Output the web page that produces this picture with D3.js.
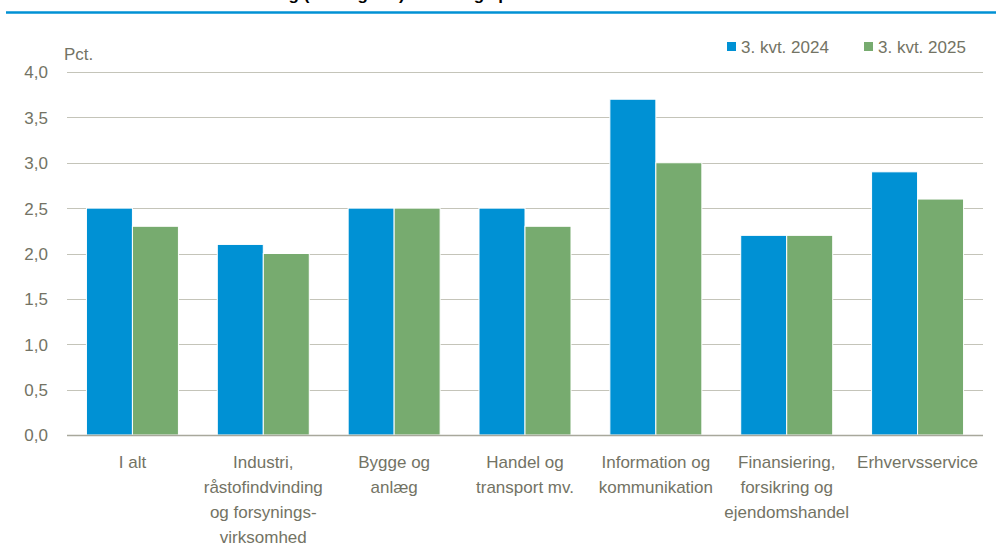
<!DOCTYPE html>
<html>
<head>
<meta charset="utf-8">
<script src="https://cdn.jsdelivr.net/npm/d3@7"></script>
<style>
  body { margin: 0; background: #fff; }
  svg { display: block; font-family: Arial, "Liberation Sans", sans-serif; }
  .tick-label, .cat-label, .legend-text, .unit { fill: #737364; font-size: 17px; }
</style>
</head>
<body>
<svg id="chart"></svg>
<script>
// Data
const categories = [
  ['I alt'],
  ['Industri,', 'råstofindvinding', 'og forsynings-', 'virksomhed'],
  ['Bygge og', 'anlæg'],
  ['Handel og', 'transport mv.'],
  ['Information og', 'kommunikation'],
  ['Finansiering,', 'forsikring og', 'ejendomshandel'],
  ['Erhvervsservice']
];
const seriesNames = ['3. kvt. 2024', '3. kvt. 2025'];
const values2024 = [2.5, 2.1, 2.5, 2.5, 3.7, 2.2, 2.9];
const values2025 = [2.3, 2.0, 2.5, 2.3, 3.0, 2.2, 2.6];
const yTicks = [0, 0.5, 1, 1.5, 2, 2.5, 3, 3.5, 4];
const colors = ['#0091d4', '#77ab6f'];

const width = 996, height = 551;
const margin = {top: 72, right: 13, bottom: 116, left: 67};
const innerW = width - margin.left - margin.right;
const innerH = height - margin.top - margin.bottom;

const svg = d3.select('#chart')
    .attr('width', width)
    .attr('height', height);

// title, cut off at the top edge as in the source
svg.append('text')
    .attr('x', 8)
    .attr('y', 0)
    .style('font-size', '17px')
    .style('font-weight', 'bold')
    .attr('fill', '#000')
    .text('Jobvakancerate i hovedbrancher og (ukorrigeret) udvikling i procent');

svg.append('line')
    .attr('x1', 6).attr('x2', width)
    .attr('y1', 12.5).attr('y2', 12.5)
    .attr('stroke', '#0091d4')
    .attr('stroke-width', 2.5);

const chart = svg.append('g')
    .attr('transform', `translate(${margin.left},${margin.top})`);

const idx = categories.map((d, i) => i);
const xScale = d3.scaleBand()
    .domain(idx)
    .range([0, innerW])
    .paddingInner(0.297)
    .paddingOuter(0.1485);

const xSub = d3.scaleBand()
    .domain([0, 1])
    .range([0, xScale.bandwidth()]);

const yScale = d3.scaleLinear()
    .domain([0, 4])
    .range([innerH, 0]);

// gridlines
chart.selectAll('.grid')
    .data(yTicks.filter(d => d > 0))
  .join('line')
    .attr('class', 'grid')
    .attr('x1', 0).attr('x2', innerW)
    .attr('y1', d => Math.round(yScale(d)) + 0.5)
    .attr('y2', d => Math.round(yScale(d)) + 0.5)
    .attr('stroke', '#c4c4b9')
    .attr('stroke-width', 1);

// y tick labels
chart.selectAll('.tick-label')
    .data(yTicks)
  .join('text')
    .attr('class', 'tick-label')
    .attr('x', -19)
    .attr('y', d => yScale(d))
    .attr('dy', '0.38em')
    .attr('text-anchor', 'end')
    .text(d => d3.format('.1f')(d).replace('.', ','));

chart.append('text')
    .attr('class', 'unit')
    .attr('x', -3)
    .attr('y', -12)
    .text('Pct.');

// bars
const series = [values2024, values2025];
series.forEach((vals, s) => {
  chart.selectAll('.bar-' + s)
      .data(vals)
    .join('rect')
      .attr('class', 'bar-' + s)
      .attr('x', (d, i) => xScale(i) + xSub(s))
      .attr('width', xSub.bandwidth())
      .attr('y', d => yScale(d))
      .attr('height', d => innerH - yScale(d))
      .attr('fill', colors[s])
      .attr('stroke', '#fff')
      .attr('stroke-width', 1);
});

// x axis line
chart.append('line')
    .attr('x1', 0).attr('x2', innerW)
    .attr('y1', innerH + 0.5).attr('y2', innerH + 0.5)
    .attr('stroke', '#a8a89c')
    .attr('stroke-width', 1.3);

// category labels
const labels = chart.selectAll('.cat-label')
    .data(categories)
  .join('text')
    .attr('class', 'cat-label')
    .attr('text-anchor', 'middle')
    .attr('transform', (d, i) => `translate(${xScale(i) + xScale.bandwidth() / 2},${innerH + 33})`);

labels.selectAll('tspan')
    .data(d => d)
  .join('tspan')
    .attr('x', 0)
    .attr('y', (d, j) => j * 25)
    .text(d => d);

// legend
const legend = svg.append('g')
    .attr('transform', 'translate(727,42)');
const legX = [0, 137];
seriesNames.forEach((name, s) => {
  legend.append('rect')
      .attr('x', legX[s]).attr('y', 0)
      .attr('width', 9).attr('height', 9)
      .attr('fill', colors[s]);
  legend.append('text')
      .attr('class', 'legend-text')
      .attr('x', legX[s] + 14)
      .attr('y', 11)
      .text(name);
});
</script>
</body>
</html>
